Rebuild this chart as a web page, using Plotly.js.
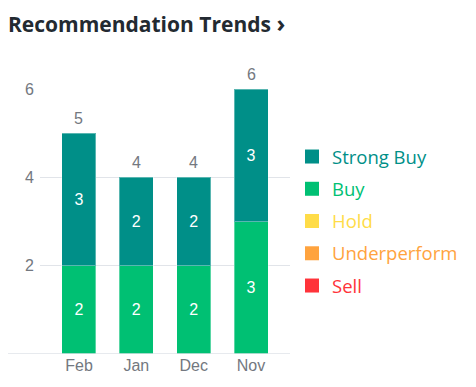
<!DOCTYPE html>
<html>
<head>
<meta charset="utf-8">
<script src="https://cdn.plot.ly/plotly-3.0.1.min.js"></script>
<style>html,body{margin:0;padding:0;background:#fff;}#chart{width:476px;height:387px;}</style>
</head>
<body>
<div id="chart"></div>
<script>
const months = ["Feb", "Jan", "Dec", "Nov"];
const strongBuy = [3, 2, 2, 3];
const buy = [2, 2, 2, 3];
const hold = [0, 0, 0, 0];
const underperform = [0, 0, 0, 0];
const sell = [0, 0, 0, 0];
const yTicks = [2, 4, 6];

const series = [
  {name: "Sell", values: sell, color: "#ff333a"},
  {name: "Underperform", values: underperform, color: "#ffa33e"},
  {name: "Hold", values: hold, color: "#ffdc48"},
  {name: "Buy", values: buy, color: "#00c073"},
  {name: "Strong Buy", values: strongBuy, color: "#008f88"}
];

const totals = months.map((m, i) => series.reduce((s, d) => s + d.values[i], 0));

const traces = [];
series.forEach(s => {
  traces.push({
    type: "bar",
    x: months,
    y: s.values,
    name: s.name,
    legendgroup: s.name,
    showlegend: false,
    marker: {color: s.color, line: {color: "rgba(255,255,255,0.35)", width: 1}},
    text: s.values.map(v => v > 0 ? String(v) : ""),
    textposition: "inside",
    insidetextanchor: "middle",
    textangle: 0,
    textfont: {color: "#ffffff", size: 16, family: "Liberation Sans, Arial, sans-serif"},
    hoverinfo: "skip"
  });
});

// legend entries (top to bottom)
series.slice().reverse().forEach(s => {
  traces.push({
    type: "scatter",
    mode: "markers",
    x: [months[0]],
    y: [null],
    name: '<span style="color:' + s.color + '">' + s.name + '</span>',
    legendgroup: s.name,
    marker: {symbol: "square", size: 14, color: s.color},
    hoverinfo: "skip"
  });
});

const totalLabels = months.map((m, i) => ({
  x: m, y: totals[i], xref: "x", yref: "y",
  text: String(totals[i]),
  showarrow: false,
  yanchor: "bottom",
  yshift: 4,
  font: {color: "#737880", size: 16, family: "Liberation Sans, Arial, sans-serif"}
}));

const layout = {
  width: 476,
  height: 387,
  margin: {l: 40, r: 186, t: 89, b: 33},
  paper_bgcolor: "#ffffff",
  plot_bgcolor: "#ffffff",
  barmode: "stack",
  bargap: 0.407,
  showlegend: true,
  hovermode: false,
  title: {
    text: "<b>Recommendation Trends</b> <b><span style=\"font-size:24px\">›</span></b>",
    font: {family: "Open Sans, sans-serif", size: 21, color: "#232a31"},
    xref: "container", yref: "container",
    x: 8 / 476, xanchor: "left",
    y: 1 - 25 / 387, yanchor: "middle"
  },
  annotations: totalLabels,
  xaxis: {
    type: "category",
    range: [-0.68, 3.68],
    showgrid: false,
    zeroline: false,
    showline: false,
    ticks: "",
    tickfont: {family: "Liberation Sans, Arial, sans-serif", size: 16, color: "#737880"},
    fixedrange: true
  },
  yaxis: {
    range: [0, 6],
    tickvals: yTicks,
    ticktext: yTicks.map(String),
    showgrid: true,
    gridcolor: "#e1e4e9",
    gridwidth: 1,
    zeroline: false,
    showline: false,
    ticks: "",
    ticklabelstandoff: 5,
    tickfont: {family: "Liberation Sans, Arial, sans-serif", size: 16, color: "#737880"},
    fixedrange: true
  },
  shapes: [{
    type: "line", xref: "paper", yref: "y",
    x0: -32 / 250, x1: 1, y0: 0, y1: 0,
    line: {color: "#dfe3e8", width: 1.5}
  }],
  legend: {
    xref: "container", yref: "container",
    x: 292 / 476, xanchor: "left",
    y: 1 - 138 / 387, yanchor: "top",
    traceorder: "grouped",
    tracegroupgap: 5.2,
    font: {family: "Open Sans, sans-serif", size: 18.5, color: "#232a31"},
    bgcolor: "rgba(0,0,0,0)"
  }
};

Plotly.newPlot("chart", traces, layout, {displayModeBar: false, staticPlot: true});
</script>
</body>
</html>
